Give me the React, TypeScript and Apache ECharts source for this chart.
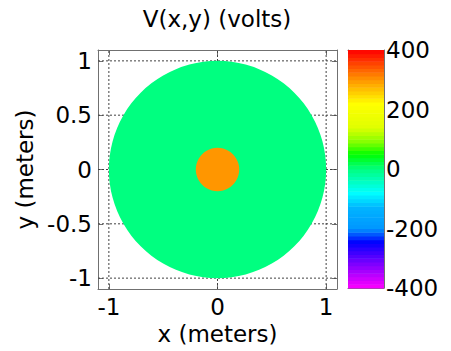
import React, { useEffect, useRef } from "react";
import * as echarts from "echarts";

// Data
const discX = [0, 0];
const discY = [0, 0];
const discR = [1, 0.2];
const discV = [0, 300];
const xTicks = [-1, 0, 1];
const yTicks = [-1, -0.5, 0, 0.5, 1];
const cbTicks = [-400, -200, 0, 200, 400];
const axisMin = -1.1;
const axisMax = 1.1;

// colormap stops (value -> colour)
const cmapVals = [-400, -320, -245, -200, -130, -80, 0, 50, 90, 140, 220, 300, 400];
const cmapCols = ["#ff00ff", "#8000ff", "#0000ff", "#0096ff", "#00b4ff", "#00ffff", "#00ff80", "#00ff00", "#80ff00", "#e0ff00", "#ffff00", "#ff9600", "#ff0000"];

function hex(c: string) {
  return [parseInt(c.slice(1, 3), 16), parseInt(c.slice(3, 5), 16), parseInt(c.slice(5, 7), 16)];
}
function colorFor(v: number) {
  if (v <= cmapVals[0]) return cmapCols[0];
  for (let i = 1; i < cmapVals.length; i++) {
    if (v <= cmapVals[i]) {
      const t = (v - cmapVals[i - 1]) / (cmapVals[i] - cmapVals[i - 1]);
      const a = hex(cmapCols[i - 1]);
      const b = hex(cmapCols[i]);
      const m = a.map((x, k) => Math.round(x + (b[k] - x) * t));
      return `rgb(${m[0]},${m[1]},${m[2]})`;
    }
  }
  return cmapCols[cmapCols.length - 1];
}

const FONT = "'DejaVu Sans', Verdana, sans-serif";
const FS = 23;
const BOX = "#707070";
const GRIDC = "#404040";

export default function App() {
  const ref = useRef<HTMLDivElement>(null);
  useEffect(() => {
    if (!ref.current) return;
    const chart = echarts.init(ref.current, undefined, { renderer: "svg" });
    const discData = discX.map((x, i) => [x, discY[i], discR[i], discV[i]]);
    const nBands = 64;
    const cbMin = cbTicks[0];
    const cbMax = cbTicks[cbTicks.length - 1];
    const bands: number[][] = [];
    for (let i = 0; i < nBands; i++) {
      const lo = cbMin + ((cbMax - cbMin) * i) / nBands;
      const hi = cbMin + ((cbMax - cbMin) * (i + 1)) / nBands;
      bands.push([lo, hi]);
    }
    const baseAxis = {
      axisLine: { show: true, onZero: false, lineStyle: { color: BOX, width: 1 } },
      axisTick: { show: true, inside: true, length: 5, lineStyle: { color: BOX } },
      axisLabel: { show: false },
      splitLine: { show: false },
    };
    const labelStyle = { fontSize: FS, color: "#000", fontFamily: FONT };
    chart.setOption({
      animation: false,
      textStyle: { fontFamily: FONT },
      graphic: [
        {
          type: "text",
          x: 217,
          y: 19,
          style: { text: "V(x,y) (volts)", font: `${FS}px ${FONT}`, fill: "#000", textAlign: "center", textVerticalAlign: "middle" },
        },
      ],
      grid: [
        { left: 98, top: 50, width: 239, height: 239 },
        { left: 348, top: 50, width: 36, height: 238 },
      ],
      xAxis: [
        {
          ...baseAxis,
          gridIndex: 0,
          type: "value",
          position: "bottom",
          min: axisMin,
          max: axisMax,
          axisTick: { ...baseAxis.axisTick, customValues: xTicks },
          axisLabel: { show: true, customValues: xTicks, ...labelStyle, margin: 6 },
          name: "x (meters)",
          nameLocation: "middle",
          nameGap: 27,
          nameTextStyle: labelStyle,
        },
        {
          ...baseAxis,
          gridIndex: 0,
          type: "value",
          position: "top",
          min: axisMin,
          max: axisMax,
          axisTick: { ...baseAxis.axisTick, customValues: xTicks },
        },
        { ...baseAxis, gridIndex: 1, type: "value", position: "bottom", min: 0, max: 1, axisTick: { show: false } },
        { ...baseAxis, gridIndex: 1, type: "value", position: "top", min: 0, max: 1, axisTick: { show: false } },
      ],
      yAxis: [
        {
          ...baseAxis,
          gridIndex: 0,
          type: "value",
          position: "left",
          min: axisMin,
          max: axisMax,
          axisTick: { ...baseAxis.axisTick, customValues: yTicks },
          axisLabel: { show: true, customValues: yTicks, ...labelStyle, margin: 6 },
          name: "y (meters)",
          nameLocation: "middle",
          nameGap: 57,
          nameTextStyle: labelStyle,
        },
        {
          ...baseAxis,
          gridIndex: 0,
          type: "value",
          position: "right",
          min: axisMin,
          max: axisMax,
          axisTick: { ...baseAxis.axisTick, customValues: yTicks },
        },
        {
          ...baseAxis,
          gridIndex: 1,
          type: "value",
          position: "right",
          min: cbMin,
          max: cbMax,
          interval: 200,
          axisTick: { show: true, inside: true, length: 4, lineStyle: { color: BOX } },
          axisLabel: { show: true, ...labelStyle, margin: 2 },
        },
        {
          ...baseAxis,
          gridIndex: 1,
          type: "value",
          position: "left",
          min: cbMin,
          max: cbMax,
          interval: 200,
          axisTick: { show: true, inside: true, length: 4, lineStyle: { color: BOX } },
        },
      ],
      series: [
        {
          type: "custom",
          xAxisIndex: 0,
          yAxisIndex: 0,
          data: xTicks.map((v) => [v]),
          z: 1,
          silent: true,
          renderItem: (params: any, api: any) => {
            const v = api.value(0);
            const a = api.coord([v, axisMin]);
            const b = api.coord([v, axisMax]);
            return {
              type: "line",
              shape: { x1: a[0], y1: a[1], x2: b[0], y2: b[1] },
              style: { stroke: GRIDC, lineWidth: 1, lineDash: [2, 2] },
            };
          },
        },
        {
          type: "custom",
          xAxisIndex: 0,
          yAxisIndex: 0,
          data: yTicks.map((v) => [v]),
          z: 1,
          silent: true,
          renderItem: (params: any, api: any) => {
            const v = api.value(0);
            const a = api.coord([axisMin, v]);
            const b = api.coord([axisMax, v]);
            return {
              type: "line",
              shape: { x1: a[0], y1: a[1], x2: b[0], y2: b[1] },
              style: { stroke: GRIDC, lineWidth: 1, lineDash: [2, 2] },
            };
          },
        },
        {
          type: "custom",
          xAxisIndex: 0,
          yAxisIndex: 0,
          data: discData,
          z: 3,
          renderItem: (params: any, api: any) => {
            const c = api.coord([api.value(0), api.value(1)]);
            const s = api.size([api.value(2), api.value(2)]);
            return {
              type: "circle",
              shape: { cx: c[0], cy: c[1], r: s[0] },
              style: { fill: colorFor(api.value(3)) },
            };
          },
        },
        {
          type: "custom",
          xAxisIndex: 2,
          yAxisIndex: 2,
          data: bands,
          z: 1,
          renderItem: (params: any, api: any) => {
            const lo = api.value(0);
            const hi = api.value(1);
            const p0 = api.coord([0, hi]);
            const p1 = api.coord([1, lo]);
            return {
              type: "rect",
              shape: { x: p0[0], y: p0[1], width: p1[0] - p0[0], height: p1[1] - p0[1] + 0.5 },
              style: { fill: colorFor((lo + hi) / 2) },
            };
          },
        },
      ],
    });
    return () => chart.dispose();
  }, []);
  return <div ref={ref} style={{ position: "fixed", left: 0, top: 0, width: 451, height: 351, background: "#fff" }} />;
}
